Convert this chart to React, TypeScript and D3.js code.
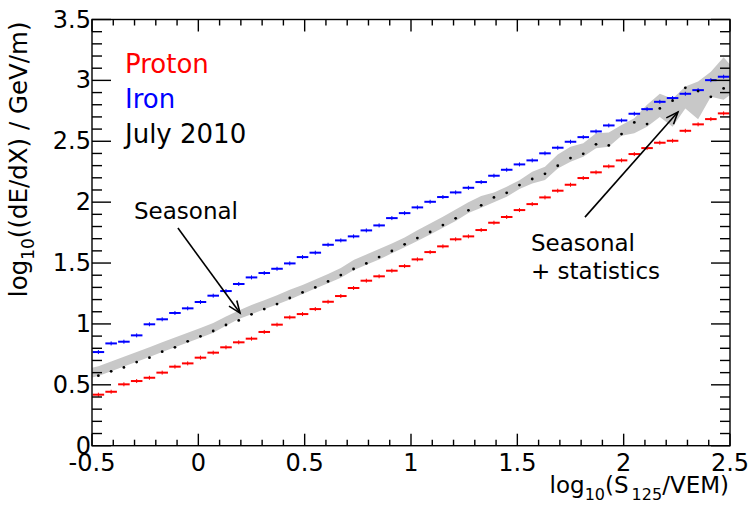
import React, { useEffect } from "react";
import * as d3 from "d3";

// bin centres of log10(S125/VEM), bins of 0.06 from -0.5 to 2.5
const binCenters = [
  -0.47, -0.41, -0.35, -0.29, -0.23, -0.17, -0.11, -0.05, 0.01, 0.07,
  0.13, 0.19, 0.25, 0.31, 0.37, 0.43, 0.49, 0.55, 0.61, 0.67,
  0.73, 0.79, 0.85, 0.91, 0.97, 1.03, 1.09, 1.15, 1.21, 1.27,
  1.33, 1.39, 1.45, 1.51, 1.57, 1.63, 1.69, 1.75, 1.81, 1.87,
  1.93, 1.99, 2.05, 2.11, 2.17, 2.23, 2.29, 2.35, 2.41, 2.47,
];
const binWidth = 0.06;

const proton = [
  0.419, 0.443, 0.504, 0.531, 0.558, 0.6, 0.649, 0.676, 0.723, 0.764,
  0.808, 0.849, 0.879, 0.934, 0.994, 1.054, 1.081, 1.122, 1.182, 1.229,
  1.295, 1.355, 1.391, 1.437, 1.475, 1.53, 1.59, 1.637, 1.695, 1.719,
  1.771, 1.831, 1.878, 1.935, 1.984, 2.039, 2.094, 2.143, 2.198, 2.245,
  2.294, 2.343, 2.395, 2.444, 2.488, 2.504, 2.586, 2.639, 2.682, 2.729,
];

const iron = [
  0.769, 0.84, 0.854, 0.906, 0.997, 1.038, 1.09, 1.128, 1.18, 1.232,
  1.27, 1.328, 1.382, 1.418, 1.453, 1.497, 1.549, 1.585, 1.65, 1.686,
  1.719, 1.768, 1.809, 1.869, 1.91, 1.957, 2.003, 2.042, 2.08, 2.118,
  2.165, 2.217, 2.266, 2.31, 2.343, 2.401, 2.447, 2.496, 2.534, 2.581,
  2.63, 2.671, 2.726, 2.764, 2.824, 2.855, 2.89, 2.92, 3.002, 3.03,
];

const july2010 = [
  0.575, 0.611, 0.643, 0.687, 0.723, 0.772, 0.808, 0.857, 0.898, 0.942,
  0.991, 1.029, 1.079, 1.122, 1.163, 1.213, 1.259, 1.3, 1.349, 1.401,
  1.451, 1.497, 1.549, 1.599, 1.654, 1.705, 1.755, 1.812, 1.867, 1.933,
  1.974, 2.039, 2.077, 2.14, 2.19, 2.233, 2.299, 2.362, 2.397, 2.475,
  2.466, 2.559, 2.655, 2.641, 2.77, 2.833, 2.939, 2.912, 2.865, 2.934,
];

// seasonal + statistics band, low and high edge at each bin centre
const bandLo = [
  0.572, 0.611, 0.65, 0.69, 0.729, 0.769, 0.808, 0.848, 0.887, 0.927,
  0.985, 1.04, 1.08, 1.12, 1.16, 1.2, 1.245, 1.29, 1.335, 1.38,
  1.44, 1.485, 1.53, 1.58, 1.63, 1.68, 1.735, 1.79, 1.845, 1.91,
  1.955, 2.0, 2.045, 2.108, 2.154, 2.181, 2.277, 2.332, 2.373, 2.442,
  2.455, 2.545, 2.565, 2.62, 2.7, 2.62, 2.77, 2.68, 2.865, 2.84,
];
const bandHi = [
  0.652, 0.691, 0.73, 0.77, 0.809, 0.849, 0.888, 0.928, 0.967, 1.007,
  1.06, 1.11, 1.155, 1.195, 1.235, 1.28, 1.32, 1.365, 1.41, 1.46,
  1.525, 1.57, 1.615, 1.66, 1.71, 1.77, 1.825, 1.88, 1.94, 2.0,
  2.05, 2.08, 2.127, 2.18, 2.25, 2.29, 2.392, 2.455, 2.483, 2.565,
  2.573, 2.633, 2.69, 2.8, 2.89, 2.85, 2.95, 2.99, 3.07, 3.19,
];
// band values at the frame edges x = -0.5 and x = 2.5
const bandLeft = [0.56, 0.64];
const bandRight = [2.88, 3.13];

const legend = [
  { label: "Proton", color: "#ff0000" },
  { label: "Iron", color: "#0000ff" },
  { label: "July 2010", color: "#000000" },
];

const W = 750;
const H = 507;
const FONT = "DejaVu Sans";

const x = d3.scaleLinear().domain([-0.5, 2.5]).range([92, 730]);
const y = d3.scaleLinear().domain([0, 3.5]).range([445.7, 19.5]);

const Arrow = ({ x1, y1, x2, y2 }) => {
  const px1 = x(x1), py1 = y(y1), px2 = x(x2), py2 = y(y2);
  const ang = Math.atan2(py2 - py1, px2 - px1);
  const len = 13, spread = 0.38;
  const a1 = [px2 - len * Math.cos(ang - spread), py2 - len * Math.sin(ang - spread)];
  const a2 = [px2 - len * Math.cos(ang + spread), py2 - len * Math.sin(ang + spread)];
  return (
    <g stroke="#000" strokeWidth={1.6} fill="none">
      <line x1={px1} y1={py1} x2={px2} y2={py2} />
      <polyline points={`${a1[0]},${a1[1]} ${px2},${py2} ${a2[0]},${a2[1]}`} />
    </g>
  );
};

const App = () => {
  useEffect(() => {
    document.body.style.margin = "0";
  }, []);

  const [x0, x1] = x.range();
  const [y0, y1] = y.range();

  const xMajor = x.ticks(6);
  const xMinor = x.ticks(30).filter(t => !xMajor.some(m => Math.abs(m - t) < 1e-9));
  const yMajor = y.ticks(7);
  const yMinor = y.ticks(35).filter(t => !yMajor.some(m => Math.abs(m - t) < 1e-9));

  const bandPts = [
    { x: -0.5, lo: bandLeft[0], hi: bandLeft[1] },
    ...binCenters.map((c, i) => ({ x: c, lo: bandLo[i], hi: bandHi[i] })),
    { x: 2.5, lo: bandRight[0], hi: bandRight[1] },
  ];
  const band = d3.area()
    .x(d => x(d.x))
    .y0(d => y(d.lo))
    .y1(d => y(d.hi));

  const bars = (vals, color) =>
    vals.map((v, i) => {
      const c = binCenters[i];
      const xa = x(c - binWidth / 2) + 0.6;
      const xb = x(c + binWidth / 2) - 0.6;
      const py = y(v);
      return (
        <g key={i} stroke={color}>
          <line x1={xa} x2={xb} y1={py} y2={py} strokeWidth={2} />
          <line x1={x(c)} x2={x(c)} y1={py - 2} y2={py + 2} strokeWidth={1} />
        </g>
      );
    });

  const fmt = v => String(+v.toFixed(1));

  return (
    <svg width={W} height={H} style={{ display: "block", background: "#fff" }} fontFamily={FONT}>
      <path d={band(bandPts)} fill="#c8c8c8" stroke="none" />
      {bars(proton, "#ff0000")}
      {bars(iron, "#0000ff")}
      {july2010.map((v, i) => (
        <circle key={i} cx={x(binCenters[i])} cy={y(v)} r={1.4} fill="#000" />
      ))}

      {/* frame and ticks */}
      <g stroke="#000" strokeWidth={1.4} fill="none">
        <rect x={x0} y={y1} width={x1 - x0} height={y0 - y1} />
        {xMajor.map(t => (
          <g key={"xM" + t}>
            <line x1={x(t)} x2={x(t)} y1={y0} y2={y0 - 12} />
            <line x1={x(t)} x2={x(t)} y1={y1} y2={y1 + 12} />
          </g>
        ))}
        {xMinor.map(t => (
          <g key={"xm" + t}>
            <line x1={x(t)} x2={x(t)} y1={y0} y2={y0 - 6} />
            <line x1={x(t)} x2={x(t)} y1={y1} y2={y1 + 6} />
          </g>
        ))}
        {yMajor.map(t => (
          <g key={"yM" + t}>
            <line x1={x0} x2={x0 + 19} y1={y(t)} y2={y(t)} />
            <line x1={x1} x2={x1 - 19} y1={y(t)} y2={y(t)} />
          </g>
        ))}
        {yMinor.map(t => (
          <g key={"ym" + t}>
            <line x1={x0} x2={x0 + 10} y1={y(t)} y2={y(t)} />
            <line x1={x1} x2={x1 - 10} y1={y(t)} y2={y(t)} />
          </g>
        ))}
      </g>

      {/* tick labels */}
      <g fontSize={24} fill="#000">
        {yMajor.map(t => (
          <text key={"yl" + t} x={x0 - 1} y={y(t)} textAnchor="end" dominantBaseline="central">
            {fmt(t)}
          </text>
        ))}
        {xMajor.map(t => (
          <text key={"xl" + t} x={x(t)} y={471} textAnchor="middle">
            {fmt(t)}
          </text>
        ))}
      </g>

      {/* axis titles */}
      <text x={729} y={493} textAnchor="end" fontSize={23}>
        log<tspan fontSize={16} dy={7}>10</tspan>
        <tspan dy={-7}>(S</tspan>
        <tspan fontSize={16} dy={7} dx={3}>125</tspan>
        <tspan dy={-7}>/VEM)</tspan>
      </text>
      <text transform={`translate(27, ${y1 + 2}) rotate(-90)`} textAnchor="end" fontSize={24.5}>
        log<tspan fontSize={17} dy={7}>10</tspan>
        <tspan dy={-7}>((dE/dX) / GeV/m)</tspan>
      </text>

      {/* legend */}
      {legend.map((l, i) => (
        <text key={l.label} x={125} y={73 + i * 35} fontSize={26} fill={l.color}>
          {l.label}
        </text>
      ))}

      {/* annotations */}
      <g fontSize={23} fill="#000">
        <text x={134} y={219}>Seasonal</text>
        <text x={531} y={251}>Seasonal</text>
        <text x={531} y={279}>+ statistics</text>
      </g>
      <Arrow x1={-0.096} y1={1.787} x2={0.196} y2={1.089} />
      <Arrow x1={1.818} y1={1.877} x2={2.255} y2={2.74} />
    </svg>
  );
};

export default App;
